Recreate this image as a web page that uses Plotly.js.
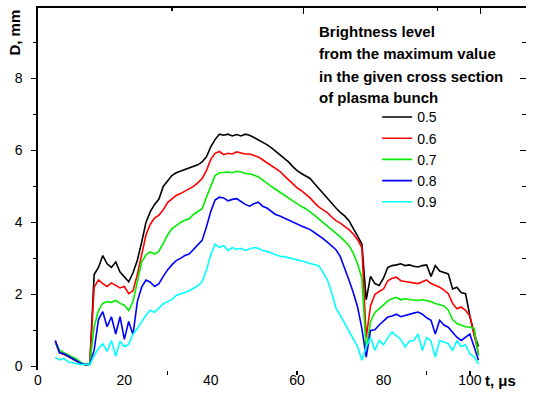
<!DOCTYPE html>
<html>
<head>
<meta charset="utf-8">
<script src="https://cdn.plot.ly/plotly-3.0.1.min.js"></script>
<style>
  html, body { margin: 0; padding: 0; background: #fff; }
  #chart { width: 535px; height: 395px; }
</style>
</head>
<body>
<div id="chart"></div>
<script>
// Time, microseconds
const t = [
  4, 5, 6, 7, 8, 9, 10, 11, 12,
  13, 14, 15, 16, 17, 18, 19, 20, 21, 22,
  23, 24, 25, 26, 27, 28, 29, 30, 31, 32,
  33, 34, 35, 36, 37, 38, 39, 40, 41, 42,
  43, 44, 45, 46, 47, 48, 49, 50, 51, 52,
  53, 54, 55, 56, 57, 58, 59, 60, 61, 62,
  63, 64, 65, 66, 67, 68, 69, 70, 71, 72,
  73, 74, 75, 76, 77, 78, 79, 80, 81, 82,
  83, 84, 85, 86, 87, 88, 89, 90, 91, 92,
  93, 94, 95, 96, 97, 98, 99, 100, 101, 102
];

// Bunch diameter D (mm) at each brightness level
const d05 = [
  0.70, 0.38, 0.34, 0.27, 0.21, 0.14, 0.08, 0.05, 0.06,
  2.55, 2.75, 3.08, 2.85, 2.75, 2.90, 2.62, 2.48, 2.35, 2.60,
  2.95, 3.45, 4.00, 4.30, 4.50, 4.65, 5.00, 5.15, 5.30, 5.38,
  5.42, 5.47, 5.50, 5.55, 5.60, 5.68, 5.82, 6.10, 6.30, 6.45,
  6.42, 6.45, 6.40, 6.44, 6.40, 6.45, 6.42, 6.36, 6.30, 6.24,
  6.16, 6.08, 5.98, 5.88, 5.78, 5.68, 5.55, 5.44, 5.36, 5.30,
  5.22, 5.08, 4.94, 4.80, 4.68, 4.55, 4.40, 4.28, 4.18, 4.05,
  3.85, 3.62, 3.40, 1.85, 2.50, 2.30, 2.25, 2.45, 2.75, 2.80,
  2.82, 2.85, 2.80, 2.82, 2.78, 2.76, 2.80, 2.82, 2.50, 2.80,
  2.65, 2.60, 2.57, 2.15, 2.20, 2.05, 2.02, 1.40, 0.90, 0.55
];
const d06 = [
  0.70, 0.38, 0.34, 0.27, 0.21, 0.14, 0.08, 0.05, 0.06,
  2.20, 2.40, 2.30, 2.22, 2.32, 2.25, 2.18, 2.22, 2.02, 2.10,
  2.55, 3.10, 3.65, 3.95, 4.12, 4.20, 4.35, 4.55, 4.65, 4.75,
  4.80, 4.87, 4.95, 5.00, 5.10, 5.22, 5.44, 5.75, 5.92, 5.97,
  5.88, 5.92, 5.90, 5.96, 5.93, 5.90, 5.90, 5.86, 5.82, 5.74,
  5.66, 5.58, 5.50, 5.42, 5.30, 5.18, 5.08, 4.96, 4.88, 4.78,
  4.68, 4.55, 4.43, 4.35, 4.27, 4.15, 4.05, 3.98, 3.90, 3.80,
  3.68, 3.52, 3.30, 0.80, 1.68, 2.00, 2.08, 2.15, 2.38, 2.45,
  2.48, 2.38, 2.36, 2.34, 2.32, 2.30, 2.35, 2.40, 2.30, 2.25,
  2.20, 2.12, 2.02, 1.75, 1.60, 1.65, 1.56, 1.40, 0.85, 0.35
];
const d07 = [
  0.65, 0.45, 0.38, 0.32, 0.25, 0.20, 0.10, 0.06, 0.07,
  1.10, 1.55, 1.75, 1.80, 1.78, 1.83, 1.75, 1.70, 1.55, 1.80,
  2.40, 2.90, 3.10, 3.18, 3.12, 3.20, 3.42, 3.65, 3.82, 3.92,
  4.00, 4.06, 4.10, 4.22, 4.30, 4.38, 4.70, 5.00, 5.30, 5.38,
  5.40, 5.40, 5.38, 5.42, 5.40, 5.36, 5.35, 5.30, 5.27, 5.18,
  5.08, 5.00, 4.92, 4.84, 4.75, 4.68, 4.60, 4.50, 4.44, 4.38,
  4.30, 4.20, 4.10, 4.00, 3.90, 3.82, 3.72, 3.60, 3.48, 3.36,
  3.15, 2.85, 2.45, 0.45, 1.25, 1.50, 1.60, 1.70, 1.82, 1.88,
  1.92, 1.85, 1.88, 1.86, 1.84, 1.83, 1.85, 1.83, 1.80, 1.75,
  1.72, 1.68, 1.56, 1.30, 1.19, 1.15, 1.10, 1.09, 1.05, 0.30
];
const d08 = [
  0.72, 0.38, 0.35, 0.28, 0.22, 0.15, 0.08, 0.05, 0.06,
  0.45, 1.30, 1.52, 1.10, 1.38, 0.90, 1.38, 0.75, 1.25, 0.88,
  1.80, 2.20, 2.40, 2.34, 2.22, 2.30, 2.50, 2.68, 2.82, 2.94,
  3.00, 3.08, 3.12, 3.25, 3.35, 3.50, 3.87, 4.30, 4.62, 4.70,
  4.68, 4.60, 4.64, 4.66, 4.58, 4.50, 4.45, 4.52, 4.56, 4.45,
  4.40, 4.32, 4.22, 4.18, 4.12, 4.06, 4.00, 3.94, 3.90, 3.85,
  3.80, 3.72, 3.64, 3.55, 3.45, 3.35, 3.24, 3.05, 2.75, 2.40,
  2.05, 1.65, 1.05, 0.26, 1.00, 1.02, 1.15, 1.25, 1.37, 1.40,
  1.45, 1.38, 1.42, 1.46, 1.48, 1.51, 1.45, 1.35, 1.28, 0.90,
  1.28, 1.15, 1.09, 0.95, 0.81, 0.72, 0.80, 0.90, 0.54, 0.17
];
const d09 = [
  0.25, 0.18, 0.22, 0.12, 0.10, 0.08, 0.05, 0.06, 0.05,
  0.30, 0.50, 0.63, 0.42, 0.72, 0.28, 0.70, 0.55, 0.62, 0.90,
  1.05, 1.25, 1.42, 1.56, 1.50, 1.62, 1.74, 1.80, 1.86, 1.97,
  2.00, 2.05, 2.10, 2.18, 2.24, 2.35, 2.67, 3.10, 3.40, 3.30,
  3.36, 3.22, 3.30, 3.25, 3.28, 3.22, 3.25, 3.30, 3.28, 3.22,
  3.20, 3.15, 3.10, 3.06, 3.05, 3.02, 3.00, 2.98, 2.95, 2.90,
  2.86, 2.82, 2.80, 2.62, 2.40, 2.05, 1.62, 1.42, 1.20, 1.00,
  0.78, 0.55, 0.17, 0.55, 0.80, 0.45, 0.72, 0.60, 0.80, 0.95,
  0.85, 0.75, 0.54, 0.70, 0.72, 0.90, 0.44, 0.80, 0.70, 0.26,
  0.72, 0.68, 0.63, 0.44, 0.72, 0.55, 0.60, 0.35, 0.26, 0.07
];

const levels = ['0.5', '0.6', '0.7', '0.8', '0.9'];
const series = [d05, d06, d07, d08, d09];
const colors = ['#000000', '#ff0000', '#00ee00', '#0000ff', '#00ffff'];

const xTickVals = [0, 20, 40, 60, 80, 100];
const yTickVals = [0, 2, 4, 6, 8];
const headerLines = [
  'Brightness level',
  'from the maximum value',
  'in the given cross section',
  'of plasma bunch'
];

const FONT = 'Liberation Sans, Arial, sans-serif';

const traces = series.map((vals, i) => ({
  type: 'scatter',
  mode: 'lines',
  x: t,
  y: vals,
  name: levels[i],
  line: { color: colors[i], width: 1.6 },
  hoverinfo: 'skip'
}));

// empty trace so the top and right frame axes get a subplot of their own
traces.push({
  type: 'scatter', mode: 'lines', x: [], y: [],
  xaxis: 'x2', yaxis: 'y2', showlegend: false, hoverinfo: 'skip'
});

const headerY = [0.934, 0.873, 0.812, 0.754];
const annotations = headerLines.map((txt, i) => ({
  xref: 'paper', yref: 'paper',
  x: 0.571, y: headerY[i],
  xanchor: 'left', yanchor: 'middle',
  text: '<b>' + txt + '</b>', showarrow: false,
  font: { family: FONT, size: 15, color: '#000' }
}));

annotations.push({
  xref: 'paper', yref: 'paper',
  x: -0.05, y: 1.0, xanchor: 'center', yanchor: 'top',
  text: '<b>D, mm</b>', textangle: -90, showarrow: false,
  font: { family: FONT, size: 15, color: '#000' }
});
annotations.push({
  xref: 'paper', yref: 'paper',
  x: 0.912, y: -0.03, xanchor: 'left', yanchor: 'middle',
  text: '<b>t, \u03bcs</b>', showarrow: false,
  font: { family: FONT, size: 15, color: '#000' }
});

const layout = {
  width: 535,
  height: 395,
  margin: { l: 38, r: 9, t: 8, b: 25 },
  paper_bgcolor: '#ffffff',
  plot_bgcolor: '#ffffff',
  showlegend: true,
  legend: {
    x: 0.695, y: 0.742, xanchor: 'left', yanchor: 'top',
    bgcolor: 'rgba(0,0,0,0)',
    font: { family: FONT, size: 14, color: '#000' },
    tracegroupgap: 0
  },
  xaxis: {
    range: [0, 113],
    tickvals: xTickVals,
    ticks: '',
    showline: false,
    showgrid: false,
    zeroline: false,
    tickfont: { family: FONT, size: 14, color: '#000' },
    minor: { tickmode: 'array', tickvals: [30, 60, 90, 100], ticks: 'outside', ticklen: 4, tickwidth: 1.5, tickcolor: '#000' }
  },
  xaxis2: {
    overlaying: 'x',
    anchor: 'y2',
    side: 'top',
    range: [0, 113],
    showline: true,
    linecolor: '#000',
    linewidth: 1.6,
    showgrid: false,
    zeroline: false,
    showticklabels: false,
    tickvals: [61.5, 102.5],
    ticks: 'inside',
    ticklen: 6,
    tickwidth: 1.5,
    tickcolor: '#000',
    minor: { tickmode: 'array', tickvals: [31, 92.5], ticks: 'inside', ticklen: 3, tickwidth: 1.5, tickcolor: '#000' }
  },
  yaxis: {
    range: [-0.1, 9.956],
    tickvals: yTickVals,
    ticks: 'outside',
    ticklen: 5,
    tickwidth: 1.5,
    tickcolor: '#000',
    ticklabelstandoff: 6,
    showline: true,
    linecolor: '#000',
    linewidth: 1.6,
    showgrid: false,
    zeroline: false,
    tickfont: { family: FONT, size: 14, color: '#000' },
    minor: { tickmode: 'array', tickvals: [1, 3, 5, 7, 9], ticks: 'outside', ticklen: 3, tickwidth: 1.5, tickcolor: '#000' }
  },
  yaxis2: {
    overlaying: 'y',
    anchor: 'x2',
    side: 'right',
    range: [-0.1, 9.956],
    showline: false,
    showgrid: false,
    zeroline: false,
    showticklabels: false,
    tickvals: [2, 4, 6, 8],
    ticks: 'inside',
    ticklen: 6,
    tickwidth: 1.5,
    tickcolor: '#000',
    minor: { tickmode: 'array', tickvals: [3, 5, 7, 9], ticks: 'inside', ticklen: 4, tickwidth: 1.5, tickcolor: '#000' }
  },
  annotations: annotations
};

Plotly.newPlot('chart', traces, layout, { staticPlot: true, displayModeBar: false });
</script>
</body>
</html>
